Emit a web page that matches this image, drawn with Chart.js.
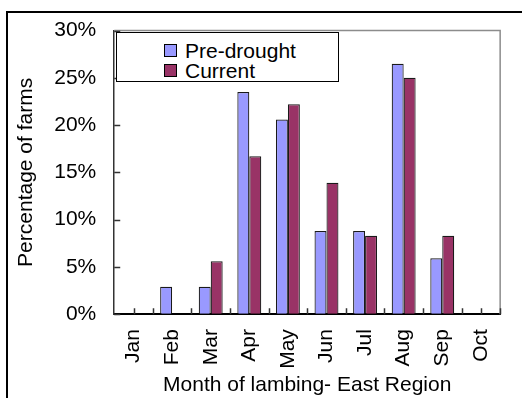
<!DOCTYPE html>
<html>
<head>
<meta charset="utf-8">
<script src="https://cdn.jsdelivr.net/npm/chart.js@4"></script>
<style>
  html, body { margin: 0; padding: 0; background: #fff; }
  #wrap { position: relative; width: 522px; height: 398px; overflow: hidden; }
  #frame { position: absolute; left: 6px; top: 11px; width: 600px; height: 500px;
           border-left: 2px solid #000; border-top: 2px solid #000; }
  canvas { position: absolute; left: 0; top: 0; }
  #legend { position: absolute; left: 116px; top: 32px; width: 221px; height: 48px;
            border: 1px solid #000; background: #fff;
            font: 21px "Liberation Sans", Arial, sans-serif; color: #000; }
  .item { position: absolute; left: 47px; height: 21px; line-height: 21px; white-space: nowrap; }
  .sw { display: inline-block; width: 11px; height: 11px; border: 1px solid #000;
        vertical-align: top; margin-top: 4px; margin-right: 8px; }
</style>
</head>
<body>
<div id="wrap">
  <div id="frame"></div>
  <canvas id="c" width="522" height="398"></canvas>
  <div id="legend"></div>
</div>
<script>
// Month of lambing, share of farms (%)
const months = ['Jan', 'Feb', 'Mar', 'Apr', 'May', 'Jun', 'Jul', 'Aug', 'Sep', 'Oct'];
const preDrought = [null, 2.9, 2.9, 23.5, 20.6, 8.8, 8.8, 26.5, 5.9, null];
const current = [null, null, 5.6, 16.7, 22.2, 13.9, 8.3, 25.0, 8.3, null];
const seriesNames = ['Pre-drought', 'Current'];
const yTicks = [0, 5, 10, 15, 20, 25, 30];

const FONT = { family: '"Liberation Sans", Arial, sans-serif', size: 21 };

// Gray frame around the plot area plus short inward tick marks
const axisMarks = {
  id: 'axisMarks',
  beforeDatasetsDraw(chart) {
    const { ctx, chartArea: a } = chart;
    ctx.save();
    ctx.strokeStyle = '#8c8c8c';
    ctx.lineWidth = 1.5;
    ctx.beginPath();
    ctx.moveTo(a.left, a.top);
    ctx.lineTo(a.right, a.top);
    ctx.lineTo(a.right, a.bottom);
    ctx.stroke();
    ctx.restore();
  },
  afterDraw(chart) {
    const { ctx, chartArea: a, scales } = chart;
    const x = scales.x, y = scales.y;
    ctx.save();
    ctx.strokeStyle = '#333';
    ctx.lineWidth = 1.5;
    ctx.beginPath();
    y.ticks.forEach((t, i) => {
      const py = Math.round(y.getPixelForTick(i)) + 0.5;
      ctx.moveTo(a.left, py);
      ctx.lineTo(a.left + 6, py);
    });
    const n = months.length;
    const xs = [];
    for (let i = 1; i <= n; i++) {
      const p = i < n ? (x.getPixelForValue(i - 1) + x.getPixelForValue(i)) / 2 : a.right;
      xs.push(p);
    }
    xs.push(x.getPixelForValue(0), x.getPixelForValue(n - 1));
    xs.forEach(p => {
      const px = Math.round(p) + 0.5;
      ctx.moveTo(px, a.bottom);
      ctx.lineTo(px, a.bottom - 6);
    });
    ctx.stroke();
    ctx.restore();
  }
};

const chart = new Chart(document.getElementById('c'), {
  type: 'bar',
  data: {
    labels: months,
    datasets: [
      { label: seriesNames[0], data: preDrought, backgroundColor: '#9999ff',
        borderColor: '#1a1a1a', borderWidth: 1.2 },
      { label: seriesNames[1], data: current, backgroundColor: '#993366',
        borderColor: '#1a1a1a', borderWidth: 1.2 }
    ]
  },
  options: {
    responsive: false,
    animation: false,
    devicePixelRatio: 1,
    layout: { padding: { left: 10, top: 25, right: 19, bottom: 0 } },
    datasets: { bar: { categoryPercentage: 0.62, barPercentage: 1.0 } },
    plugins: { legend: { display: false }, tooltip: { enabled: false } },
    scales: {
      x: {
        grid: { offset: true, drawOnChartArea: false, drawTicks: false },
        border: { display: true, color: '#000', width: 2 },
        ticks: { color: '#000', font: FONT, minRotation: 90, maxRotation: 90, padding: 15 },
        title: { display: true, text: 'Month of lambing- East Region', color: '#000',
                 font: FONT, padding: { top: -11, bottom: 0 } }
      },
      y: {
        min: 0, max: 30,
        afterBuildTicks(scale) { scale.ticks = yTicks.map(v => ({ value: v })); },
        grid: { drawOnChartArea: false, drawTicks: false },
        border: { display: true, color: '#333', width: 1.5 },
        ticks: { color: '#000', font: FONT, padding: 18, callback: v => v + '%' },
        title: { display: true, text: 'Percentage of farms', color: '#000',
                 font: FONT, padding: { top: 4, bottom: -3 } }
      }
    }
  },
  plugins: [axisMarks]
});

// Boxed legend built from the chart's datasets
const legend = document.getElementById('legend');
chart.data.datasets.forEach((ds, i) => {
  const row = document.createElement('div');
  row.className = 'item';
  row.style.top = (6.5 + i * 20.7) + 'px';
  const sw = document.createElement('span');
  sw.className = 'sw';
  sw.style.background = ds.backgroundColor;
  row.appendChild(sw);
  row.appendChild(document.createTextNode(ds.label));
  legend.appendChild(row);
});
</script>
</body>
</html>
